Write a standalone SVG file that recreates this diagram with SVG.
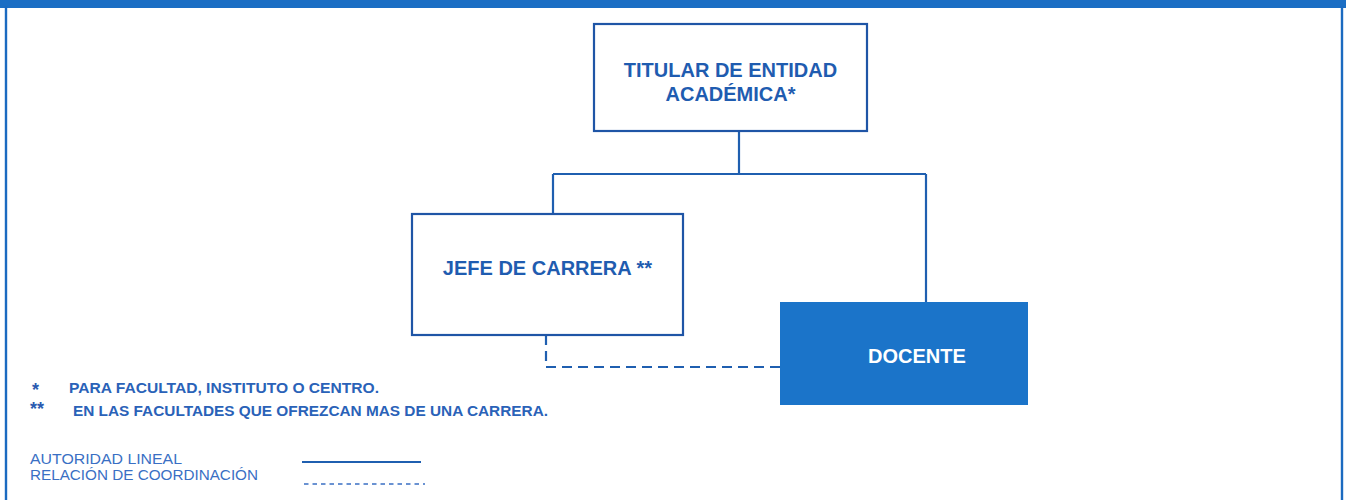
<svg xmlns="http://www.w3.org/2000/svg" width="1346" height="500" viewBox="0 0 1346 500">
<style>
.box{fill:#ffffff;stroke:#1f55a6;stroke-width:2.2}
.fill{fill:#1b74c9;stroke:none}
.t{font-family:"Liberation Sans",Arial,sans-serif;font-weight:bold;font-size:20px;fill:#1f5cb0}
.tw{font-family:"Liberation Sans",Arial,sans-serif;font-weight:bold;font-size:20px;fill:#ffffff}
.fn{font-family:"Liberation Sans",Arial,sans-serif;font-weight:bold;font-size:14px;fill:#2a62b8}
.ast{font-family:"Liberation Sans",Arial,sans-serif;font-weight:bold;font-size:18px;fill:#2a5ab0}
.lg{font-family:"Liberation Sans",Arial,sans-serif;font-size:14px;fill:#3a6fc4}
.ln{fill:none;stroke:#1f5fb0;stroke-width:2.2}
.dash{fill:none;stroke:#1f5fb0;stroke-width:2.2;stroke-dasharray:10 6}
</style>
<rect x="0" y="0" width="1346" height="500" fill="#ffffff"/>
<g id="frame">
<rect x="0" y="0" width="1346" height="8" fill="#1b6ec4"/>
<line x1="6" y1="6" x2="6" y2="500" stroke="#1b6ac0" stroke-width="2.4"/>
<line x1="1342" y1="6" x2="1342" y2="500" stroke="#1b6ac0" stroke-width="2.4"/>
</g>
<g id="connectors">
<path class="ln" d="M739 131 V174 M553 174 H926 M553 174 V214 M926 174 V303"/>
<path class="dash" d="M546 335 V367 H780"/>
</g>
<g id="node-titular">
<rect class="box" x="594" y="24" width="273" height="107"/>
<text class="t" x="730.5" y="77" text-anchor="middle">TITULAR DE ENTIDAD</text>
<text class="t" x="730.5" y="101" text-anchor="middle">ACADÉMICA*</text>
</g>
<g id="node-jefe">
<rect class="box" x="412" y="214" width="271" height="121"/>
<text class="t" x="547.5" y="275" text-anchor="middle">JEFE DE CARRERA **</text>
</g>
<g id="node-docente">
<rect class="fill" x="780" y="302" width="248" height="103"/>
<text class="tw" x="868" y="363">DOCENTE</text>
</g>
<g id="notes">
<text class="ast" x="32" y="396">*</text>
<text class="fn" x="69" y="393" textLength="310" lengthAdjust="spacingAndGlyphs">PARA FACULTAD, INSTITUTO O CENTRO.</text>
<text class="ast" x="30" y="415">**</text>
<text class="fn" x="73" y="416" textLength="475" lengthAdjust="spacingAndGlyphs">EN LAS FACULTADES QUE OFREZCAN MAS DE UNA CARRERA.</text>
</g>
<g id="legend">
<text class="lg" x="30" y="464" textLength="152" lengthAdjust="spacingAndGlyphs">AUTORIDAD LINEAL</text>
<text class="lg" x="30" y="480" textLength="228" lengthAdjust="spacingAndGlyphs">RELACIÓN DE COORDINACIÓN</text>
<line x1="302" y1="462" x2="421" y2="462" stroke="#1f5fb0" stroke-width="2.2"/>
<line x1="304" y1="484" x2="425" y2="484" stroke="#3a6fc4" stroke-width="1.3" stroke-dasharray="4.5 4"/>
</g>
</svg>
